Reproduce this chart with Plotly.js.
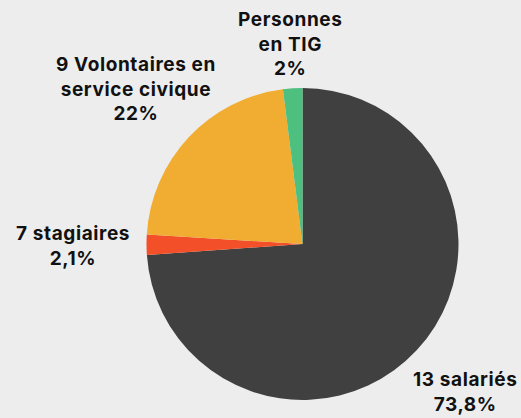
<!DOCTYPE html>
<html>
<head>
<meta charset="utf-8">
<script src="https://cdn.plot.ly/plotly-3.0.1.min.js"></script>
<style>
html,body{margin:0;padding:0;background:#ededed;}
#chart{width:521px;height:418px;}
.annotation-text{letter-spacing:0.6px;}
</style>
</head>
<body>
<div id="chart"></div>
<script>
const labels = ["13 salariés", "7 stagiaires", "9 Volontaires en service civique", "Personnes en TIG"];
const labelLines = [["13 salariés"], ["7 stagiaires"], ["9 Volontaires en", "service civique"], ["Personnes", "en TIG"]];
const values = [73.8, 2.1, 22, 2];
const pctText = ["73,8%", "2,1%", "22%", "2%"];
const colors = ["#404040", "#F34F29", "#F1AD32", "#4DBF7E"];

// label centre positions in pixels (layout)
const labelPos = [[465, 392], [73, 246], [136, 89], [290, 44]];

const W = 521, H = 418;
const annotations = labels.map((l, i) => ({
  xref: "paper", yref: "paper",
  x: labelPos[i][0] / W, y: 1 - labelPos[i][1] / H,
  xanchor: "center", yanchor: "middle",
  text: labelLines[i].concat([pctText[i]]).map(s => "<b>" + s + "</b>").join("<br>"),
  showarrow: false,
  font: {family: "Inter, 'Open Sans', sans-serif", size: 19, color: "#111111"},
  align: "center"
}));

const data = [{
  type: "pie",
  labels: labels,
  values: values,
  sort: false,
  direction: "clockwise",
  rotation: 0,
  marker: {colors: colors, line: {width: 0}},
  textinfo: "none",
  hoverinfo: "label+percent",
  domain: {x: [146 / W, 459 / W], y: [(H - 400) / H, (H - 88) / H]}
}];

const layout = {
  width: W, height: H,
  margin: {l: 0, r: 0, t: 0, b: 0},
  paper_bgcolor: "#ededed",
  plot_bgcolor: "#ededed",
  showlegend: false,
  annotations: annotations
};

Plotly.newPlot("chart", data, layout, {displayModeBar: false, staticPlot: true});
</script>
</body>
</html>
